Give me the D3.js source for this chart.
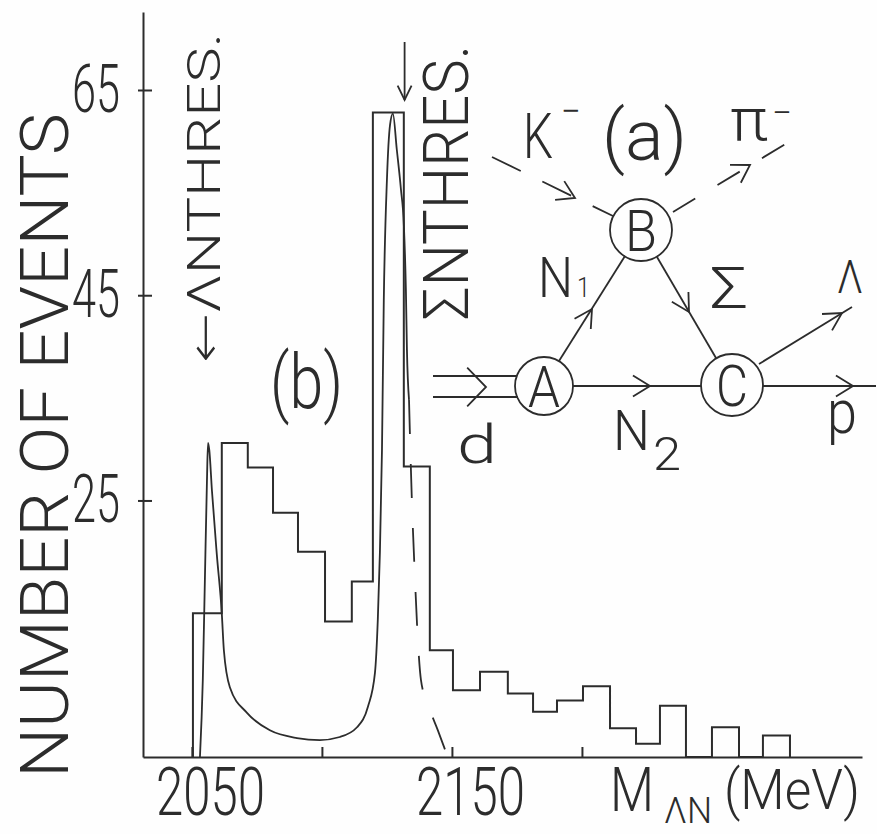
<!DOCTYPE html>
<html>
<head>
<meta charset="utf-8">
<script src="https://cdn.jsdelivr.net/npm/d3@7"></script>
<style>
  body { margin: 0; background: #fff; }
  text { font-family: Roboto, "DejaVu Sans", sans-serif; font-weight: 300; fill: #2c2c2c; }
</style>
</head>
<body>
<svg id="chart"></svg>
<script>
// histogram: bin edges in MeV and counts per bin
const binEdges = [2050.4, 2061.5, 2071.5, 2081.2, 2090.8, 2101.2, 2111.5, 2119.6, 2131.5, 2141.5,
                  2150.4, 2160.8, 2171.5, 2181.2, 2190.4, 2200.4, 2210.8, 2220.8, 2230, 2240,
                  2250, 2260.4, 2269.6, 2280];
const binCounts = [14, 30.6, 28.2, 23.8, 20, 13.2, 17.1, 62.8, 28.3, 10.4,
                   6.5, 8.3, 6.2, 4.4, 5.5, 6.9, 2.8, 1.3, 5.0, 0,
                   2.9, 0, 2.1];

// fitted curve (solid part)
const fitMass  = [2053.1, 2054.2, 2055.0, 2055.8, 2056.2, 2056.7, 2057.7, 2059.6, 2061.5, 2062.3,
                  2064.6, 2071.2, 2080, 2090.4, 2099.2, 2106.9, 2113.5, 2117.7, 2120.4, 2121.5,
                  2122.3, 2123.1, 2123.8, 2125, 2126.2, 2127.3, 2128.8, 2130.4, 2131.5, 2132.3,
                  2132.7, 2133.5];
const fitCount = [0, 7.5, 17.3, 27, 30.6, 29.9, 26, 19.7, 14, 10.4,
                  6.8, 4.3, 2.6, 1.85, 1.65, 1.95, 2.9, 4.9, 8.2, 13.4,
                  19.9, 29.9, 44.5, 56.2, 61.6, 62.7, 59.2, 55.3, 51.9, 45.5,
                  39.7, 34.8];
// dashed continuation of the fit
const tailMass  = [2133.5, 2133.8, 2134.6, 2135.8, 2136.9, 2138.1, 2140.8, 2144.6, 2148.1];
const tailCount = [34.8, 31.9, 25, 17.3, 11.4, 7.5, 5.1, 2.6, 0.2];

const yTicks = [25, 45, 65];
const xTicks = [2050, 2100, 2150, 2200];
const xTickLabels = {2050: "2050", 2150: "2150"};

const width = 877, height = 834;
const ink = "#2c2c2c";

const svg = d3.select("#chart")
    .attr("width", width)
    .attr("height", height)
    .attr("viewBox", [0, 0, width, height]);

svg.append("rect").attr("width", width).attr("height", height).attr("fill", "#fefefe");

const x = d3.scaleLinear().domain([2031.2, 2307.7]).range([143, 862]);
const y = d3.scaleLinear().domain([0, 72.6]).range([757, 12]);

// y axis, ticks cross the line, labels upright
svg.append("g")
    .attr("transform", `translate(${x.range()[0]},0)`)
    .call(d3.axisLeft(y).tickValues(yTicks).tickSizeOuter(0).tickSizeInner(5).tickPadding(18))
    .call(g => g.select(".domain").attr("stroke", ink).attr("stroke-width", 2))
    .call(g => g.selectAll(".tick line").attr("stroke", ink).attr("stroke-width", 2).attr("x1", 9))
    .call(g => g.selectAll(".tick text")
        .attr("font-size", 66).attr("font-family", null)
        .attr("textLength", 48).attr("lengthAdjust", "spacingAndGlyphs"));

// x axis, short ticks pointing up
svg.append("g")
    .attr("transform", `translate(0,${y.range()[0]})`)
    .call(d3.axisBottom(x).tickValues(xTicks).tickSizeOuter(0).tickSizeInner(-10)
        .tickFormat(d => xTickLabels[d] || ""))
    .call(g => g.select(".domain").attr("stroke", ink).attr("stroke-width", 2))
    .call(g => g.selectAll(".tick line").attr("stroke", ink).attr("stroke-width", 2))
    .call(g => g.selectAll(".tick text")
        .attr("font-size", 66).attr("font-family", null)
        .attr("y", 58).attr("dy", 0).attr("dx", 18)
        .attr("textLength", d => xTickLabels[d] ? 109 : null)
        .attr("lengthAdjust", "spacingAndGlyphs"));

// histogram as a step outline
const I = d3.range(binCounts.length);
const stepPts = [[binEdges[0], 0], ...I.map(i => [binEdges[i], binCounts[i]]), [binEdges[binEdges.length - 1], 0]];
svg.append("path")
    .attr("d", d3.line().x(d => x(d[0])).y(d => y(d[1])).curve(d3.curveStepAfter)(stepPts))
    .attr("fill", "none").attr("stroke", ink).attr("stroke-width", 2);

// fitted curve
const curve = d3.line().x(d => x(d[0])).y(d => y(d[1])).curve(d3.curveMonotoneX);
svg.append("path")
    .attr("d", curve(fitMass.map((m, i) => [m, fitCount[i]])))
    .attr("fill", "none").attr("stroke", ink).attr("stroke-width", 1.8);
svg.append("path")
    .attr("d", curve(tailMass.map((m, i) => [m, tailCount[i]])))
    .attr("fill", "none").attr("stroke", ink).attr("stroke-width", 1.8)
    .attr("stroke-dasharray", "34,30");

// text helper
function label(s, px, py, size, len, opts = {}) {
    const t = svg.append("text")
        .attr("font-size", size)
        .attr("text-anchor", opts.anchor || "start")
        .text(s);
    if (opts.rotate) t.attr("transform", `translate(${px},${py}) rotate(${opts.rotate})`);
    else t.attr("x", px).attr("y", py);
    if (len) t.attr("textLength", len).attr("lengthAdjust", "spacingAndGlyphs");
    return t;
}

// axis titles
label("NUMBER OF EVENTS", 68, 778, 66, 665, {rotate: -90});
label("M", 610, 811, 62, 44);
label("ΛN", 664, 823, 36, 48);
label("(MeV)", 724, 809, 56, 136);

// threshold annotations
label("←ΛNTHRES.", 220, 363, 46, 330, {rotate: -90});
label("ΣNTHRES.", 468, 320, 63, 275, {rotate: -90});
label("(b)", 270, 408, 76, 73);

function chevron(g, tip, ang, arm, half) {
    const p1 = [tip[0] - arm * Math.cos(ang - half), tip[1] - arm * Math.sin(ang - half)];
    const p2 = [tip[0] - arm * Math.cos(ang + half), tip[1] - arm * Math.sin(ang + half)];
    g.append("path")
        .attr("d", `M${p1}L${tip}L${p2}`)
        .attr("fill", "none").attr("stroke", ink).attr("stroke-width", 1.8);
}

// Σ threshold arrow
const arrowX = x(2131.8);
svg.append("line").attr("x1", arrowX).attr("x2", arrowX).attr("y1", 42).attr("y2", 100)
    .attr("stroke", ink).attr("stroke-width", 1.8);
chevron(svg, [arrowX, 100], Math.PI / 2, 16, 0.45);

// inset diagram (a)
const dg = svg.append("g");
const nodes = {A: [544, 386, 29], B: [641, 230, 31], C: [732, 385, 31]};
function seg(p, q, dash) {
    dg.append("line").attr("x1", p[0]).attr("y1", p[1]).attr("x2", q[0]).attr("y2", q[1])
        .attr("stroke", ink).attr("stroke-width", 1.8)
        .attr("stroke-dasharray", dash || null);
}
seg([433, 376], [517, 376]);
seg([433, 397], [518, 397]);
chevron(dg, [486, 387], 0, 27, 0.8);
seg([573, 386], [701, 386]);
chevron(dg, [650, 386], 0, 20, 0.55);
seg([763, 386], [876, 386]);
chevron(dg, [853, 386], 0, 20, 0.55);
seg([559, 361], [625, 256]);
chevron(dg, [592, 309], Math.atan2(-105, 66), 20, 0.5);
seg([657, 257], [716, 358]);
chevron(dg, [689, 312], Math.atan2(101, 59), 20, 0.5);
seg([759, 364], [852, 307]);
chevron(dg, [842, 313], Math.atan2(-57, 93), 20, 0.5);
seg([492, 157], [613, 216], "32,24");
chevron(dg, [575, 198], Math.atan2(59, 121), 20, 0.55);
seg([673, 212], [797, 137], "26,26");
chevron(dg, [750, 165], Math.atan2(-75, 124), 20, 0.55);

Object.entries(nodes).forEach(([k, n]) => {
    dg.append("circle").attr("cx", n[0]).attr("cy", n[1]).attr("r", n[2])
        .attr("fill", "none").attr("stroke", ink).attr("stroke-width", 1.8);
    label(k, n[0], n[1] + 21, 58, 32, {anchor: "middle"});
});

label("K", 523, 158, 63, 30);
label("−", 561, 125, 40, 20);
label("(a)", 602, 160, 70, 85);
label("π", 730, 140, 60, 38);
label("−", 772, 125, 36, 20);
label("N", 538, 297, 56, 35);
label("1", 577, 297, 28, 13);
label("Σ", 710, 308, 58, 38);
label("Λ", 837, 293, 46, 26);
label("d", 457, 463, 54, 40);
label("N", 613, 450, 56, 37);
label("2", 653, 470, 46, 28);
label("p", 827, 433, 62, 30);
</script>
</body>
</html>
